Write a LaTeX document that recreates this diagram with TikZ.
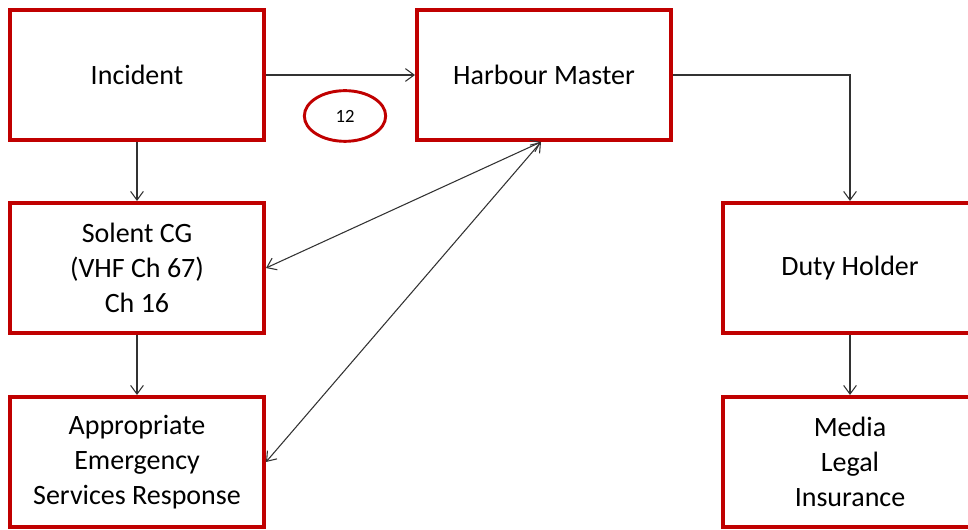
\documentclass[tikz,border=0pt]{standalone}
\usepackage{fontspec}
\setmainfont{Carlito}
\usetikzlibrary{arrows.meta,shapes.geometric}
\definecolor{boxred}{RGB}{192,0,0}
\definecolor{linegray}{RGB}{50,50,50}
\begin{document}
\begin{tikzpicture}[
        x=0.75pt, y=-0.75pt,
        boxNode/.style={rectangle, draw=boxred, line width=3pt, fill=white,
            minimum width=190.5pt, minimum height=97.5pt, inner sep=0pt,
            align=center, font=\fontsize{21}{26}\selectfont},
        countNode/.style={ellipse, draw=boxred, line width=2.2pt,
            minimum width=61pt, minimum height=38pt, inner sep=0pt,
            font=\fontsize{14}{16}\selectfont},
        link/.style={draw=linegray, line width=0.8pt, -{Straight Barb[length=6.5pt,width=9.5pt]}},
        twoway/.style={link, {Straight Barb[length=6.5pt,width=9.5pt]}-{Straight Barb[length=6.5pt,width=9.5pt]}}
    ]
        \useasboundingbox (0,0) rectangle (968,530);

        % Boxes
        \node[boxNode] (incident) at (137,75) {Incident};
        \node[boxNode] (harbour) at (544,75) {Harbour Master};
        \node[boxNode] (solent) at (137,268) {Solent CG\\(VHF Ch 67)\\Ch 16};
        \node[boxNode] (services) at (137,462) {Appropriate\\Emergency\\Services Response};
        \node[boxNode] (duty) at (850,268) {Duty Holder};
        \node[boxNode] (media) at (850,462) {Media\\Legal\\Insurance};

        % Count
        \node[countNode] (count) at (345,116) {12};

        % Edges
        \draw[link] (incident) -- (harbour);
        \draw[link] (incident) -- (solent);
        \draw[link] (solent) -- (services);
        \draw[link] (harbour.east) -| (duty.north);
        \draw[link] (duty) -- (media);
        \draw[twoway] (solent.east) -- ([xshift=-2.25pt]harbour.south);
        \draw[twoway] (services.east) -- ([xshift=-2.25pt]harbour.south);
    \end{tikzpicture}
\end{document}
